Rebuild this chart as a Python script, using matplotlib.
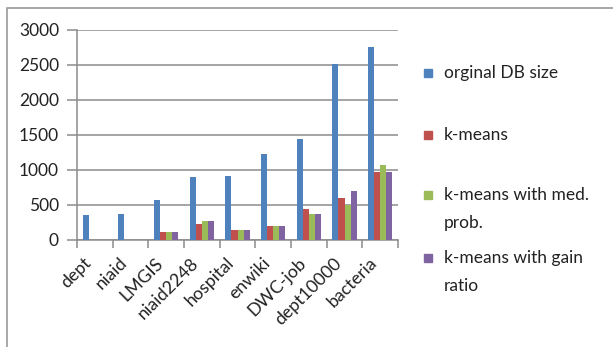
import matplotlib
matplotlib.use("Agg")
import matplotlib.pyplot as plt
import matplotlib.transforms as mtransforms
import numpy as np
from matplotlib.patches import Rectangle

categories = ["dept", "niaid", "LMGIS", "niaid2248", "hospital", "enwiki",
              "DWC-job", "dept10000", "bacteria"]
series_names = ["orginal DB size", "k-means", "k-means with med. prob.",
                "k-means with gain ratio"]
legend_lines = [["orginal DB size"], ["k-means"], ["k-means with med.", "prob."],
                ["k-means with gain", "ratio"]]
original_db = [345, 370, 560, 890, 910, 1225, 1440, 2510, 2750]
kmeans = [0, 0, 105, 220, 130, 195, 435, 600, 960]
kmeans_med = [0, 0, 105, 270, 130, 195, 365, 495, 1060]
kmeans_gain = [0, 0, 105, 270, 130, 195, 365, 700, 960]
y_ticks = [0, 500, 1000, 1500, 2000, 2500, 3000]

colors = ["#4F81BD", "#C0504D", "#9BBB59", "#8064A2"]
font = "Lato"
W, H = 613, 347

fig = plt.figure(figsize=(W / 100, H / 100), dpi=100)
fig.patch.set_facecolor("white")

# outer chart frame
fig.add_artist(Rectangle((7 / W, -0.1), 1.2, 1 - 8 / H + 0.1, transform=fig.transFigure,
                         fill=False, edgecolor="#9a9a9a", linewidth=1.2))

ax = fig.add_axes([77 / W, 1 - 239.5 / H, (398 - 77) / W, (239.5 - 30) / H])
values = [original_db, kmeans, kmeans_med, kmeans_gain]
x = np.arange(len(categories))
bw = 0.17
for i, (vals, c) in enumerate(zip(values, colors)):
    ax.bar(x + (i - 1.5) * bw, vals, width=bw, color=c, zorder=3, linewidth=0,
           label=series_names[i])

ax.set_xlim(-0.5, len(categories) - 0.5)
ax.set_ylim(0, 3000)
ax.set_yticks(y_ticks)
ax.set_yticklabels([str(v) for v in y_ticks], fontfamily=font, fontsize=12.5, color="#222222")
ax.yaxis.grid(True, color="#8c8c8c", linewidth=1.1, zorder=0)
ax.set_axisbelow(True)

ax.set_xticks(np.arange(len(categories) + 1) - 0.5, minor=False)
ax.set_xticklabels([])
ax.set_xticks(x, minor=True)
ax.set_xticklabels(categories, minor=True, rotation=45, ha="right", va="top",
                   fontfamily=font, fontsize=12.8, color="#222222")
shift = mtransforms.ScaledTranslation(3 / 100, 0, fig.dpi_scale_trans)
for lbl in ax.get_xticklabels(minor=True):
    lbl.set_transform(lbl.get_transform() + shift)
ax.tick_params(axis="x", which="major", length=6, color="#8c8c8c", width=1.1)
ax.tick_params(axis="x", which="minor", length=0, pad=11)
ax.tick_params(axis="y", length=7, color="#8c8c8c", width=1.1, pad=6)

for s in ["top", "right"]:
    ax.spines[s].set_visible(False)
for s in ["left", "bottom"]:
    ax.spines[s].set_color("#8c8c8c")
    ax.spines[s].set_linewidth(1.1)

# legend
row_y = [73, 135, 195, 258]
line_gap = 28
for lines, c, y in zip(legend_lines, colors, row_y):
    fig.add_artist(Rectangle((424 / W, 1 - (y + 4) / H), 8 / W, 8 / H,
                             transform=fig.transFigure, color=c))
    for k, ln in enumerate(lines):
        fig.text(444 / W, 1 - (y + k * line_gap) / H, ln, fontfamily=font,
                 fontsize=12.5, color="#222222", va="center", ha="left")

fig.savefig("out.png", dpi=100, facecolor="white")
